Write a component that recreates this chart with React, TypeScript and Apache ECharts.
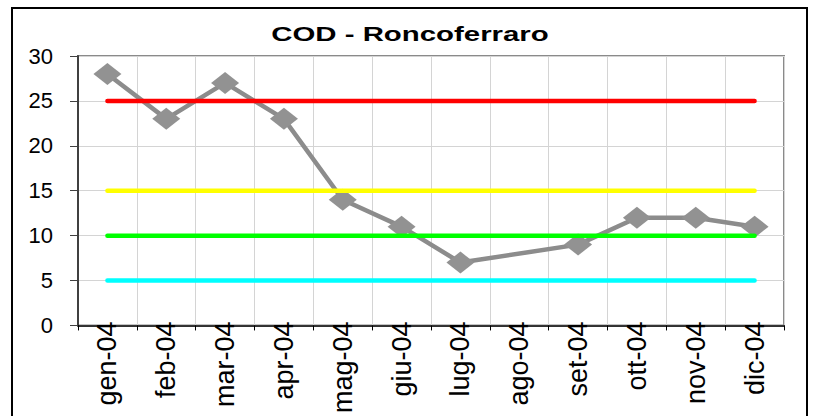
import React, { useEffect, useRef } from "react";
import * as echarts from "echarts";

const months = ["gen-04", "feb-04", "mar-04", "apr-04", "mag-04", "giu-04", "lug-04", "ago-04", "set-04", "ott-04", "nov-04", "dic-04"];
const codValues: (number | null)[] = [28, 23, 27, 23, 14, 11, 7, null, 9, 12, 12, 11];
const redLimit = 25;
const yellowLimit = 15;
const greenLimit = 10;
const cyanLimit = 5;
const yMin = 0;
const yMax = 30;
const yStep = 5;
const titleText = "COD - Roncoferraro";

const FONT = "'Liberation Sans', Arial, sans-serif";

export default function App() {
  const ref = useRef<HTMLDivElement>(null);
  useEffect(() => {
    if (!ref.current) return;
    const chart = echarts.init(ref.current, null, { renderer: "svg" });
    const flat = (v: number) => months.map(() => v);
    const refLine = (name: string, v: number, color: string) => ({
      name,
      type: "line",
      data: flat(v),
      symbol: "none",
      lineStyle: { color, width: 4.5, cap: "round" },
      z: 3,
      silent: true,
    });
    chart.setOption({
      animation: false,
      backgroundColor: "#ffffff",
      graphic: [
        {
          type: "rect",
          shape: { x: 12, y: 8, width: 795, height: 430 },
          style: { fill: "none", stroke: "#000000", lineWidth: 2 },
          z: 100,
        },
        {
          type: "text",
          x: 410,
          y: 34,
          scaleX: 1.47,
          style: {
            text: titleText,
            font: `bold 20px ${FONT}`,
            fill: "#000000",
            align: "center",
            verticalAlign: "middle",
            textAlign: "center",
            textVerticalAlign: "middle",
          },
          z: 100,
        },
      ],
      grid: {
        left: 78,
        top: 56,
        width: 706,
        height: 273.5,
        show: true,
        borderColor: "#8a8a8a",
        borderWidth: 2,
        backgroundColor: "transparent",
      },
      xAxis: {
        type: "category",
        data: months,
        boundaryGap: true,
        axisLine: { show: true, lineStyle: { color: "#000000", width: 1.5 } },
        axisTick: { show: true, alignWithLabel: false, length: 5, lineStyle: { color: "#000000" } },
        splitLine: { show: true, lineStyle: { color: "#d4d4d4", width: 1 } },
        axisLabel: {
          rotate: 90,
          interval: 0,
          margin: -4,
          color: "#000000",
          fontFamily: FONT,
          fontSize: 27,
        },
      },
      yAxis: {
        type: "value",
        min: yMin,
        max: yMax,
        interval: yStep,
        axisLine: { show: true, lineStyle: { color: "#404040", width: 2 } },
        axisTick: { show: true, length: 8, lineStyle: { color: "#404040" } },
        splitLine: { show: true, lineStyle: { color: "#d4d4d4", width: 1 } },
        axisLabel: {
          margin: 25,
          color: "#000000",
          fontFamily: FONT,
          fontSize: 22,
        },
      },
      series: [
        {
          name: "COD",
          type: "line",
          data: codValues,
          connectNulls: true,
          symbol: "diamond",
          symbolSize: [28, 22],
          itemStyle: { color: "#929292" },
          lineStyle: { color: "#8c8c8c", width: 4.5 },
          z: 2,
          silent: true,
        },
        refLine("limite 25", redLimit, "#ff0000"),
        refLine("limite 15", yellowLimit, "#ffff00"),
        refLine("limite 10", greenLimit, "#00ff00"),
        refLine("limite 5", cyanLimit, "#00ffff"),
      ],
    });
    return () => chart.dispose();
  }, []);
  return (
    <div
      ref={ref}
      style={{ position: "absolute", left: 0, top: 0, width: 815, height: 416 }}
    />
  );
}
